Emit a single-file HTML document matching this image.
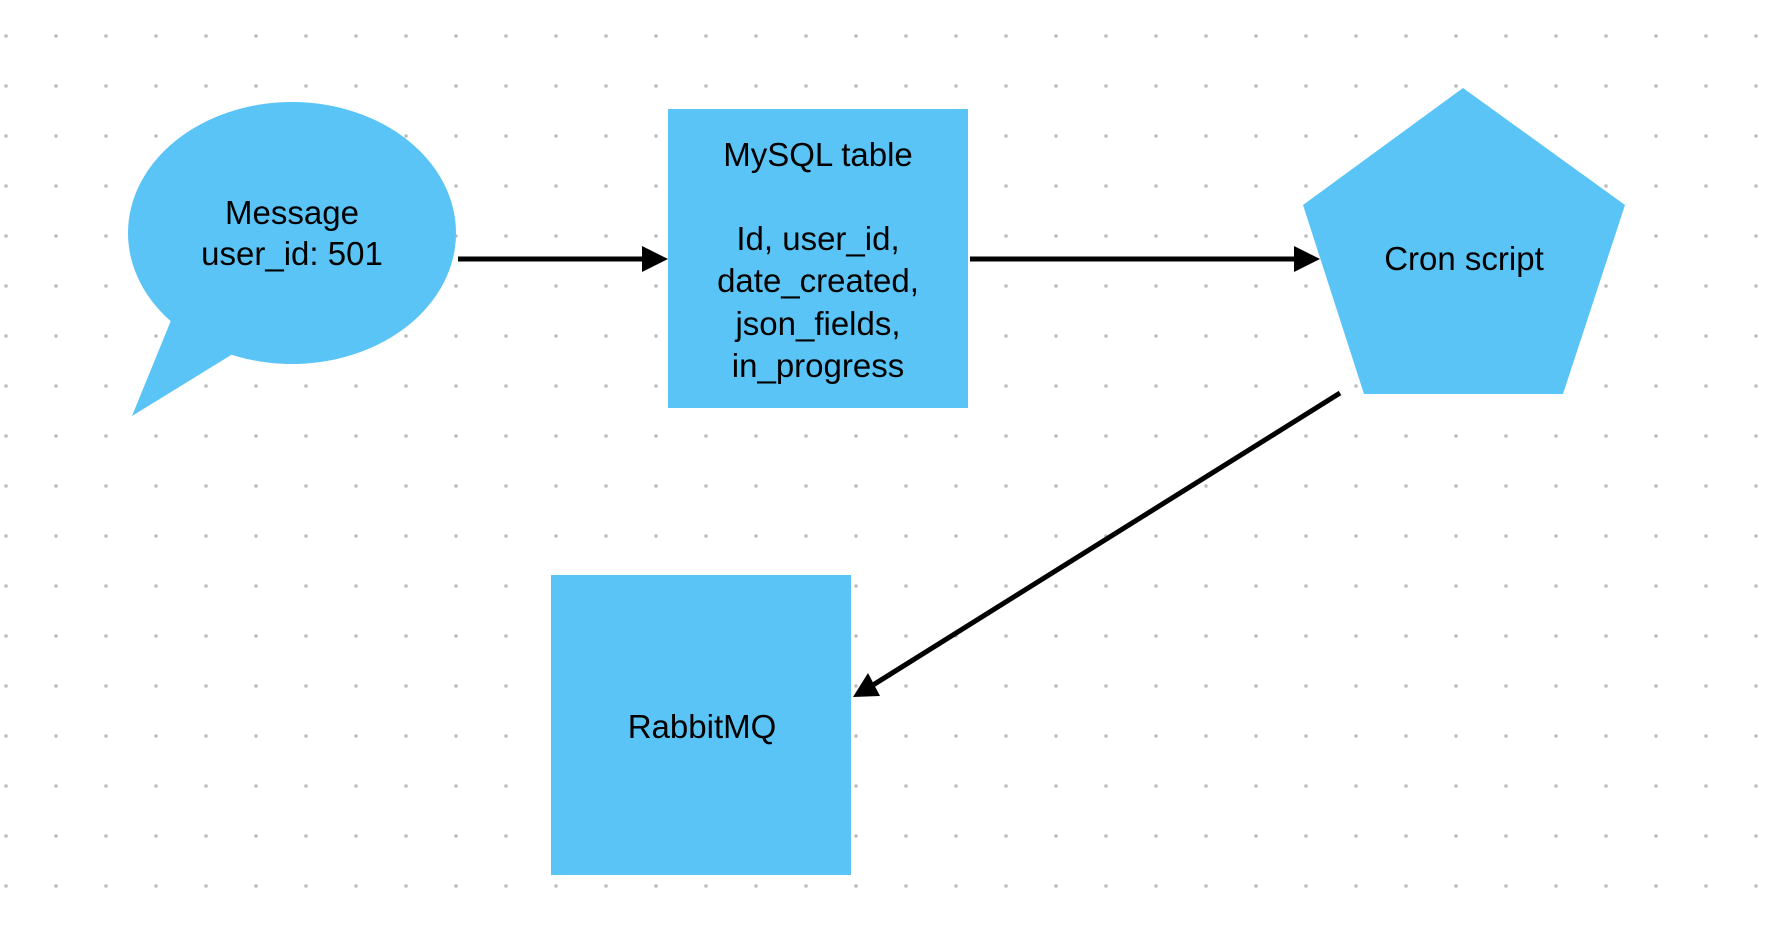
<!DOCTYPE html>
<html><head><meta charset="utf-8"><style>
html,body{margin:0;padding:0;background:#fff;}
svg{display:block;}
text{font-family:"Liberation Sans",sans-serif;font-size:33px;fill:#000;text-anchor:middle;}
</style></head><body>
<svg width="1772" height="932" viewBox="0 0 1772 932" xmlns="http://www.w3.org/2000/svg">
<defs>
<pattern id="dots" x="0" y="0" width="50" height="50" patternUnits="userSpaceOnUse">
<circle cx="6" cy="36" r="1.8" fill="#bdbdbd"/>
</pattern>
<marker id="ah" markerWidth="10" markerHeight="10" refX="8" refY="5" orient="auto" markerUnits="userSpaceOnUse" viewBox="0 0 10 10">
</marker>
</defs>
<rect width="1772" height="932" fill="url(#dots)"/>
<!-- speech bubble -->
<ellipse cx="292" cy="233" rx="164" ry="131" fill="#5ac4f6"/>
<polygon points="172,318 132,416 236,352" fill="#5ac4f6"/>
<text x="292" y="224">Message</text>
<text x="292" y="265">user_id: 501</text>
<!-- mysql -->
<rect x="668" y="109" width="300" height="299" fill="#5ac4f6"/>
<text x="818" y="166">MySQL table</text>
<text x="818" y="250">Id, user_id,</text>
<text x="818" y="292">date_created,</text>
<text x="818" y="335">json_fields,</text>
<text x="818" y="377">in_progress</text>
<!-- pentagon -->
<polygon points="1463,88 1625,205 1563,394 1364,394 1303,205" fill="#5ac4f6"/>
<text x="1464" y="270">Cron script</text>
<!-- rabbit -->
<rect x="551" y="575" width="300" height="300" fill="#5ac4f6"/>
<text x="702" y="738">RabbitMQ</text>
<!-- arrows -->
<line x1="458" y1="259" x2="646" y2="259" stroke="#000" stroke-width="5"/>
<polygon points="668,259 642,246 642,272" fill="#000"/>
<line x1="970" y1="259" x2="1298" y2="259" stroke="#000" stroke-width="5"/>
<polygon points="1320,259 1294,246 1294,272" fill="#000"/>
<line x1="1340" y1="393" x2="873" y2="685" stroke="#000" stroke-width="5"/>
<polygon points="853,697 868,673 880,696" fill="#000"/>
</svg>
</body></html>
